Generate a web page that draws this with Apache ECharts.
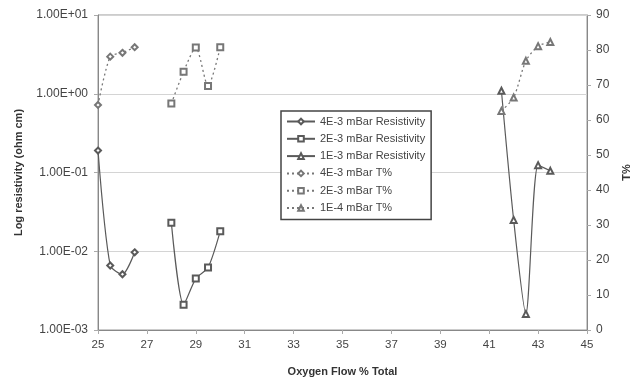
<!DOCTYPE html>
<html lang="en" style="height: 100%">
<head>
  <meta charset="utf-8">
</head>
<body style="height: 100%; margin: 0">
  <div id="container" style="width: 632px; height: 383px"></div>

  <script type="text/javascript" src="https://cdn.jsdelivr.net/npm/echarts@6/dist/echarts.min.js"></script>
  <script type="text/javascript">
    // oxygen flow (% total) for each run
    var flow4E3 = [25, 25.5, 26, 26.5];
    var flow2E3 = [28, 28.5, 29, 29.5, 30];
    var flow1E3 = [41.5, 42, 42.5, 43, 43.5];

    // resistivity, ohm cm
    var res4E3 = [0.19, 0.0066, 0.0051, 0.0097];
    var res2E3 = [0.023, 0.0021, 0.0045, 0.0062, 0.018];
    var res1E3 = [1.09, 0.025, 0.0016, 0.124, 0.105];

    // transmission, %
    var t4E3 = [64.3, 78.1, 79.2, 80.8];
    var t2E3 = [64.7, 73.8, 80.7, 69.7, 80.8];
    var t1E4 = [62.6, 66.4, 76.9, 81.1, 82.3];

    var xTicks = [25, 27, 29, 31, 33, 35, 37, 39, 41, 43, 45];

    function pairs(xs, ys) {
      return xs.map(function (x, i) { return [x, ys[i]]; });
    }

    function sci(v) {
      var e = Math.round(Math.log10(v));
      var sign = e < 0 ? '-' : '+';
      var a = Math.abs(e);
      return '1.00E' + sign + (a < 10 ? '0' + a : a);
    }

    var font = 'Liberation Sans, Arial, sans-serif';

    function mk(name, xs, ys, symbol, dotted, yIdx) {
      var col = dotted ? '#777' : '#5a5a5a';
      return {
        name: name,
        type: 'line',
        yAxisIndex: yIdx,
        data: pairs(xs, ys),
        symbol: symbol,
        symbolSize: 6,
        smooth: 0.25,
        itemStyle: { color: col, borderWidth: 1 },
        lineStyle: { color: col, width: dotted ? 1.3 : 1.2, type: dotted ? [2, 3] : 'solid' }
      };
    }

    var dom = document.getElementById('container');
    var myChart = echarts.init(dom, null, { renderer: 'canvas' });

    var option = {
      backgroundColor: '#fff',
      animation: false,
      textStyle: { fontFamily: font },
      grid: {
        left: 98, right: 45, top: 15, bottom: 53,
        outerBoundsMode: 'none',
        show: true, borderColor: '#999', borderWidth: 1
      },
      legend: {
        orient: 'vertical',
        left: 281, top: 111,
        padding: [5, 6, 6, 5],
        itemGap: 6.3,
        itemWidth: 28, itemHeight: 7,
        backgroundColor: '#fff',
        borderColor: '#444', borderWidth: 1.5,
        textStyle: { fontSize: 11, color: '#444', fontFamily: font },
        data: ['4E-3 mBar Resistivity', '2E-3 mBar Resistivity', '1E-3 mBar Resistivity',
               '4E-3 mBar T%', '2E-3 mBar T%', '1E-4 mBar T%']
      },
      xAxis: {
        type: 'value',
        min: 25, max: 45, interval: 2,
        name: 'Oxygen Flow % Total',
        nameLocation: 'middle',
        nameGap: 36,
        nameTextStyle: { fontSize: 11, fontWeight: 'bold', color: '#333' },
        axisLine: { lineStyle: { color: '#888' } },
        axisTick: { length: 4, lineStyle: { color: '#aaa' } },
        axisLabel: { fontSize: 11.5, color: '#444', margin: 9,
          customValues: xTicks },
        splitLine: { show: false }
      },
      yAxis: [
        {
          type: 'log', logBase: 10,
          min: 0.001, max: 10,
          name: 'Log resistivity (ohm cm)',
          nameLocation: 'middle',
          nameGap: 74,
          nameTextStyle: { fontSize: 11, fontWeight: 'bold', color: '#333' },
          axisLine: { show: true, lineStyle: { color: '#888' } },
          axisTick: { show: true, length: 4, lineStyle: { color: '#aaa' } },
          axisLabel: { fontSize: 12, color: '#444', formatter: sci, margin: 10 },
          splitLine: { show: true, lineStyle: { color: '#d4d4d4', width: 1.2 } }
        },
        {
          type: 'value',
          min: 0, max: 90, interval: 10,
          name: 'T%',
          nameLocation: 'middle',
          nameGap: 34,
          nameRotate: 90,
          nameTextStyle: { fontSize: 11, fontWeight: 'bold', color: '#333' },
          axisLine: { show: true, lineStyle: { color: '#888' } },
          axisTick: { show: true, length: 4, lineStyle: { color: '#aaa' } },
          axisLabel: { fontSize: 12, color: '#444', margin: 9 },
          splitLine: { show: false }
        }
      ],
      series: [
        mk('4E-3 mBar Resistivity', flow4E3, res4E3, 'emptyDiamond', false, 0),
        mk('2E-3 mBar Resistivity', flow2E3, res2E3, 'emptyRect', false, 0),
        mk('1E-3 mBar Resistivity', flow1E3, res1E3, 'emptyTriangle', false, 0),
        mk('4E-3 mBar T%', flow4E3, t4E3, 'emptyDiamond', true, 1),
        mk('2E-3 mBar T%', flow2E3, t2E3, 'emptyRect', true, 1),
        mk('1E-4 mBar T%', flow1E3, t1E4, 'emptyTriangle', true, 1)
      ]
    };

    myChart.setOption(option);
    window.addEventListener('resize', myChart.resize);
  </script>
</body>
</html>
